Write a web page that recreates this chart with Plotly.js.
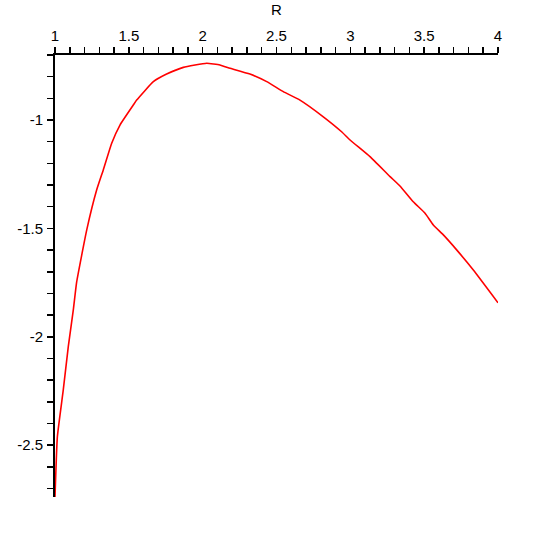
<!DOCTYPE html>
<html>
<head>
<meta charset="utf-8">
<script src="https://cdn.plot.ly/plotly-3.0.1.min.js"></script>
<style>
  body { margin: 0; background: #fff; }
  #plot { width: 554px; height: 554px; }
</style>
</head>
<body>
<div id="plot"></div>
<script>
// curve values
const rValues = [1.0, 1.016, 1.056, 1.09, 1.124, 1.147, 1.215, 1.282, 1.327, 1.384,
  1.44, 1.53, 1.553, 1.666, 1.756, 1.869, 2.027, 2.117, 2.163, 2.32,
  2.434, 2.546, 2.659, 2.817, 2.941, 2.998, 3.133, 3.269, 3.336, 3.426,
  3.506, 3.562, 3.63, 3.72, 3.833, 4.0];
const curveValues = [-2.739, -2.461, -2.245, -2.045, -1.876, -1.746, -1.507, -1.323, -1.23, -1.107,
  -1.023, -0.931, -0.908, -0.823, -0.788, -0.757, -0.738, -0.746, -0.757, -0.788,
  -0.823, -0.869, -0.908, -0.985, -1.054, -1.092, -1.169, -1.261, -1.304, -1.377,
  -1.43, -1.484, -1.53, -1.599, -1.692, -1.843];

const xTickVals = [1, 1.5, 2, 2.5, 3, 3.5, 4];
const xTickText = ['1', '1.5', '2', '2.5', '3', '3.5', '4'];
const yTickVals = [-2.5, -2, -1.5, -1];
const yTickText = ['-2.5', '-2', '-1.5', '-1'];

const tickFont = { family: 'Liberation Sans, Arial, sans-serif', size: 15, color: '#000' };

Plotly.newPlot('plot', [{
  x: rValues,
  y: curveValues,
  type: 'scatter',
  mode: 'lines',
  line: { color: '#ff0000', width: 1.6, shape: 'spline', smoothing: 0.4 }
}], {
  width: 554,
  height: 554,
  margin: { l: 55, r: 56, t: 55, b: 57 },
  paper_bgcolor: '#fff',
  plot_bgcolor: '#fff',
  showlegend: false,
  xaxis: {
    side: 'top',
    range: [1, 4],
    tickmode: 'array',
    tickvals: xTickVals,
    ticktext: xTickText,
    ticks: 'outside',
    ticklen: 6,
    tickwidth: 1.5,
    tickcolor: '#000',
    minor: { dtick: 0.1, tick0: 1, ticks: 'outside', ticklen: 6, tickwidth: 1.5, tickcolor: '#000', showgrid: false },
    showline: true,
    linecolor: '#000',
    linewidth: 2,
    showgrid: false,
    zeroline: false,
    tickfont: tickFont,
    title: { text: 'R', font: tickFont, standoff: 8 }
  },
  yaxis: {
    range: [-2.739, -0.7],
    tickmode: 'array',
    tickvals: yTickVals,
    ticktext: yTickText,
    ticks: 'outside',
    ticklen: 6,
    tickwidth: 1.5,
    tickcolor: '#000',
    minor: { dtick: 0.1, tick0: -1, ticks: 'outside', ticklen: 6, tickwidth: 1.5, tickcolor: '#000', showgrid: false },
    showline: true,
    linecolor: '#000',
    linewidth: 2,
    showgrid: false,
    zeroline: false,
    tickfont: tickFont,
    ticklabelstandoff: 1
  }
}, { displayModeBar: false, staticPlot: true });
</script>
</body>
</html>
